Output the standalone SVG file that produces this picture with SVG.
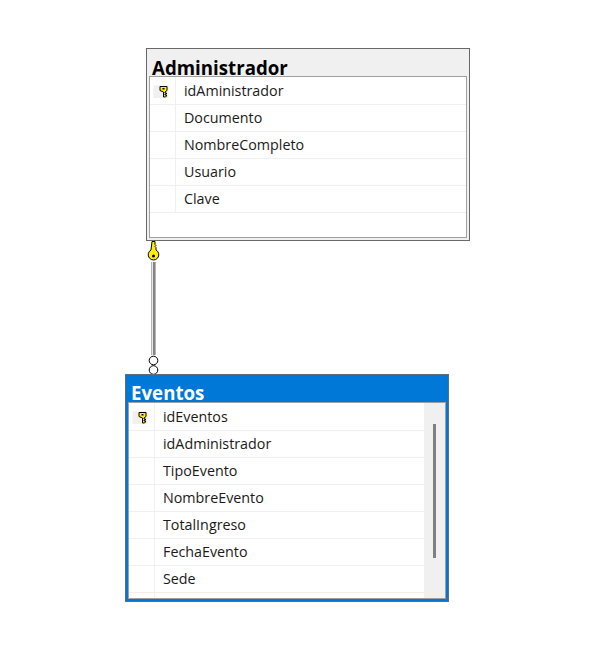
<svg xmlns="http://www.w3.org/2000/svg" width="609" height="645" viewBox="0 0 609 645">
<style>
.t{font-family:"Open Sans","Noto Sans","Liberation Sans",sans-serif;font-size:14.3px;fill:#1a1a1a}
.h{font-family:"Open Sans","Noto Sans","Liberation Sans",sans-serif;font-size:18.7px;font-weight:700}
.g{stroke:#f0f0f0;stroke-width:1;fill:none}
.frame{fill:#fff;stroke:#a0a0a0;stroke-width:1}
.outer{stroke:#696969;stroke-width:1}
.keyicon{fill:#fff000;stroke:#000;stroke-width:1}
</style>
<defs>
<g id="k"><rect x="-10" y="-5.500" width="15" height="12.500" fill="#f0f0f0" stroke="none"/><path class="keyicon" d="M-3.500 -4.500h7v4l-2 1.500v1h1.500v1h-1.500v1h1.500v1l-1 1h-2v-5l-3.500 -1.500z"/><rect x="-1" y="-3" width="2" height="1.500" fill="#000"/></g>
</defs>
<rect width="609" height="645" fill="#fff"/>
<g id="connectors">
<rect x="151" y="262" width="5" height="93" fill="#b5b5b5"/>
<rect x="152" y="262" width="1" height="93" fill="#e8e8e8"/>
<rect x="153" y="262" width="2" height="93" fill="#858585"/>
<path d="M152 241.500h3v3l1 1l-1 1l1 1v2.500a5.300 5.300 0 1 1 -5 0z" fill="#ffee00" stroke="#000" stroke-width="1"/>
<circle cx="153.500" cy="256" r="1.500" fill="#000"/>
<circle cx="153.500" cy="360.500" r="4.300" fill="#fff" stroke="#000" stroke-width="1"/>
<circle cx="153.500" cy="370" r="4.300" fill="#fff" stroke="#000" stroke-width="1"/>
</g>
<g id="administrador">
<rect class="outer" x="146.500" y="48.500" width="323" height="192" fill="#f0f0f0"/>
<text class="h" x="152" y="75" fill="#000">Administrador</text>
<rect class="frame" x="149.500" y="76.500" width="317" height="161"/>
<path class="g" d="M150 104.500H466M150 131.500H466M150 158.500H466M150 185.500H466M150 212.500H466M175.500 77V212"/>
<use href="#k" x="163.500" y="91"/>
<text class="t" x="184" y="96">idAministrador</text>
<text class="t" x="184" y="123">Documento</text>
<text class="t" x="184" y="150">NombreCompleto</text>
<text class="t" x="184" y="177">Usuario</text>
<text class="t" x="184" y="204">Clave</text>
</g>
<g id="eventos">
<rect x="125.500" y="374.500" width="323" height="227" fill="#0078d7" stroke="#5f6b78" stroke-width="1"/>
<text class="h" x="131" y="400" fill="#fff">Eventos</text>
<rect class="frame" x="128.500" y="402.500" width="317" height="196"/>
<rect x="424" y="403" width="21" height="195" fill="#f0f0f0"/>
<path class="g" d="M129 430.500H424M129 457.500H424M129 484.500H424M129 511.500H424M129 538.500H424M129 565.500H424M129 592.500H424M154.500 403V598"/>
<rect x="433" y="424" width="3" height="134" fill="#808080"/>
<use href="#k" x="142.500" y="417"/>
<text class="t" x="163" y="422">idEventos</text>
<text class="t" x="163" y="449">idAdministrador</text>
<text class="t" x="163" y="476">TipoEvento</text>
<text class="t" x="163" y="503">NombreEvento</text>
<text class="t" x="163" y="530">TotalIngreso</text>
<text class="t" x="163" y="557">FechaEvento</text>
<text class="t" x="163" y="584">Sede</text>
</g>
</svg>
